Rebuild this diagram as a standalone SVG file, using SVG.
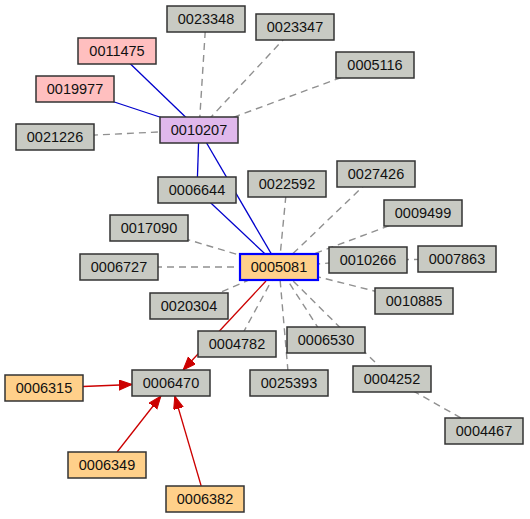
<svg xmlns="http://www.w3.org/2000/svg" width="530" height="519" viewBox="0 0 530 519">
<style>
.n rect{stroke:#333;stroke-width:1.5;fill:#c8cac3}
.n text{font-family:"Liberation Sans",Arial,sans-serif;font-size:14.5px;fill:#111;text-anchor:middle}
.p rect{fill:#ffbfbf}
.u rect{fill:#e0b8ec}
.o rect{fill:#ffd08a}
.d{stroke:#909090;stroke-width:1.4;stroke-dasharray:7,5;fill:none}
.b{stroke:#0000cc;stroke-width:1.3;fill:none}
.r{stroke:#cc0000;stroke-width:1.3;fill:none;marker-end:url(#ah)}
</style>
<defs>
<marker id="ah" markerUnits="userSpaceOnUse" markerWidth="14" markerHeight="11" refX="13" refY="5" orient="auto">
<path d="M0,0 L13,5 L0,10 z" fill="#cc0000" stroke="#cc0000" stroke-width="1"/>
</marker>
</defs>
<rect width="530" height="519" fill="#fff"/>
<g id="edges">
<line class="d" x1="206" y1="19" x2="199" y2="130"/>
<line class="d" x1="295" y1="27" x2="199" y2="130"/>
<line class="d" x1="375" y1="65" x2="199" y2="130"/>
<line class="d" x1="55" y1="137" x2="199" y2="130"/>
<line class="d" x1="287" y1="184" x2="279" y2="267"/>
<line class="d" x1="376" y1="174" x2="279" y2="267"/>
<line class="d" x1="423" y1="213" x2="279" y2="267"/>
<line class="d" x1="368" y1="260" x2="279" y2="267"/>
<line class="d" x1="457" y1="259" x2="368" y2="260"/>
<line class="d" x1="414" y1="301" x2="279" y2="267"/>
<line class="d" x1="149" y1="228" x2="279" y2="267"/>
<line class="d" x1="119" y1="267" x2="279" y2="267"/>
<line class="d" x1="189" y1="306" x2="279" y2="267"/>
<line class="d" x1="237" y1="344" x2="279" y2="267"/>
<line class="d" x1="326" y1="340" x2="279" y2="267"/>
<line class="d" x1="289" y1="383" x2="279" y2="267"/>
<line class="d" x1="392" y1="379" x2="279" y2="267"/>
<line class="d" x1="392" y1="379" x2="484" y2="431"/>
<line class="b" x1="117" y1="51" x2="199" y2="130"/>
<line class="b" x1="75" y1="89" x2="199" y2="130"/>
<line class="b" x1="199" y1="130" x2="197" y2="190"/>
<line class="b" x1="199" y1="130" x2="279" y2="267"/>
<line class="b" x1="197" y1="190" x2="279" y2="267"/>
<line class="r" x1="266" y1="281" x2="183.1" y2="370"/>
<line class="r" x1="83" y1="386.5" x2="132" y2="384.5"/>
<line class="r" x1="117.1" y1="452" x2="160.9" y2="396"/>
<line class="r" x1="201.2" y1="486" x2="174.8" y2="396"/>
</g>
<g id="n0023348" class="n"><rect x="167" y="6" width="78" height="26"/><text x="206" y="23.5">0023348</text></g>
<g id="n0011475" class="n p"><rect x="78" y="38" width="78" height="26"/><text x="117" y="55.5">0011475</text></g>
<g id="n0019977" class="n p"><rect x="36" y="76" width="78" height="26"/><text x="75" y="93.5">0019977</text></g>
<g id="n0021226" class="n"><rect x="16" y="124" width="78" height="26"/><text x="55" y="141.5">0021226</text></g>
<g id="n0010207" class="n u"><rect x="160" y="117" width="78" height="26"/><text x="199" y="134.5">0010207</text></g>
<g id="n0023347" class="n"><rect x="256" y="14" width="78" height="26"/><text x="295" y="31.5">0023347</text></g>
<g id="n0005116" class="n"><rect x="336" y="52" width="78" height="26"/><text x="375" y="69.5">0005116</text></g>
<g id="n0027426" class="n"><rect x="337" y="161" width="78" height="26"/><text x="376" y="178.5">0027426</text></g>
<g id="n0022592" class="n"><rect x="248" y="171" width="78" height="26"/><text x="287" y="188.5">0022592</text></g>
<g id="n0009499" class="n"><rect x="384" y="200" width="78" height="26"/><text x="423" y="217.5">0009499</text></g>
<g id="n0010266" class="n"><rect x="329" y="247" width="78" height="26"/><text x="368" y="264.5">0010266</text></g>
<g id="n0007863" class="n"><rect x="418" y="246" width="78" height="26"/><text x="457" y="263.5">0007863</text></g>
<g id="n0010885" class="n"><rect x="375" y="288" width="78" height="26"/><text x="414" y="305.5">0010885</text></g>
<g id="n0006644" class="n"><rect x="158" y="177" width="78" height="26"/><text x="197" y="194.5">0006644</text></g>
<g id="n0017090" class="n"><rect x="110" y="215" width="78" height="26"/><text x="149" y="232.5">0017090</text></g>
<g id="n0006727" class="n"><rect x="80" y="254" width="78" height="26"/><text x="119" y="271.5">0006727</text></g>
<g id="n0020304" class="n"><rect x="150" y="293" width="78" height="26"/><text x="189" y="310.5">0020304</text></g>
<g id="n0004782" class="n"><rect x="198" y="331" width="78" height="26"/><text x="237" y="348.5">0004782</text></g>
<g id="n0006530" class="n"><rect x="287" y="327" width="78" height="26"/><text x="326" y="344.5">0006530</text></g>
<g id="n0025393" class="n"><rect x="250" y="370" width="78" height="26"/><text x="289" y="387.5">0025393</text></g>
<g id="n0004252" class="n"><rect x="353" y="366" width="78" height="26"/><text x="392" y="383.5">0004252</text></g>
<g id="n0004467" class="n"><rect x="445" y="418" width="78" height="26"/><text x="484" y="435.5">0004467</text></g>
<g id="n0005081" class="n o"><rect x="240" y="254" width="78" height="26" style="stroke:#0000ff;stroke-width:2.2"/><text x="279" y="271.5">0005081</text></g>
<g id="n0006470" class="n"><rect x="132" y="370" width="78" height="26"/><text x="171" y="387.5">0006470</text></g>
<g id="n0006315" class="n o"><rect x="5" y="375" width="78" height="26"/><text x="44" y="392.5">0006315</text></g>
<g id="n0006349" class="n o"><rect x="68" y="452" width="78" height="26"/><text x="107" y="469.5">0006349</text></g>
<g id="n0006382" class="n o"><rect x="166" y="486" width="78" height="26"/><text x="205" y="503.5">0006382</text></g>
</svg>
